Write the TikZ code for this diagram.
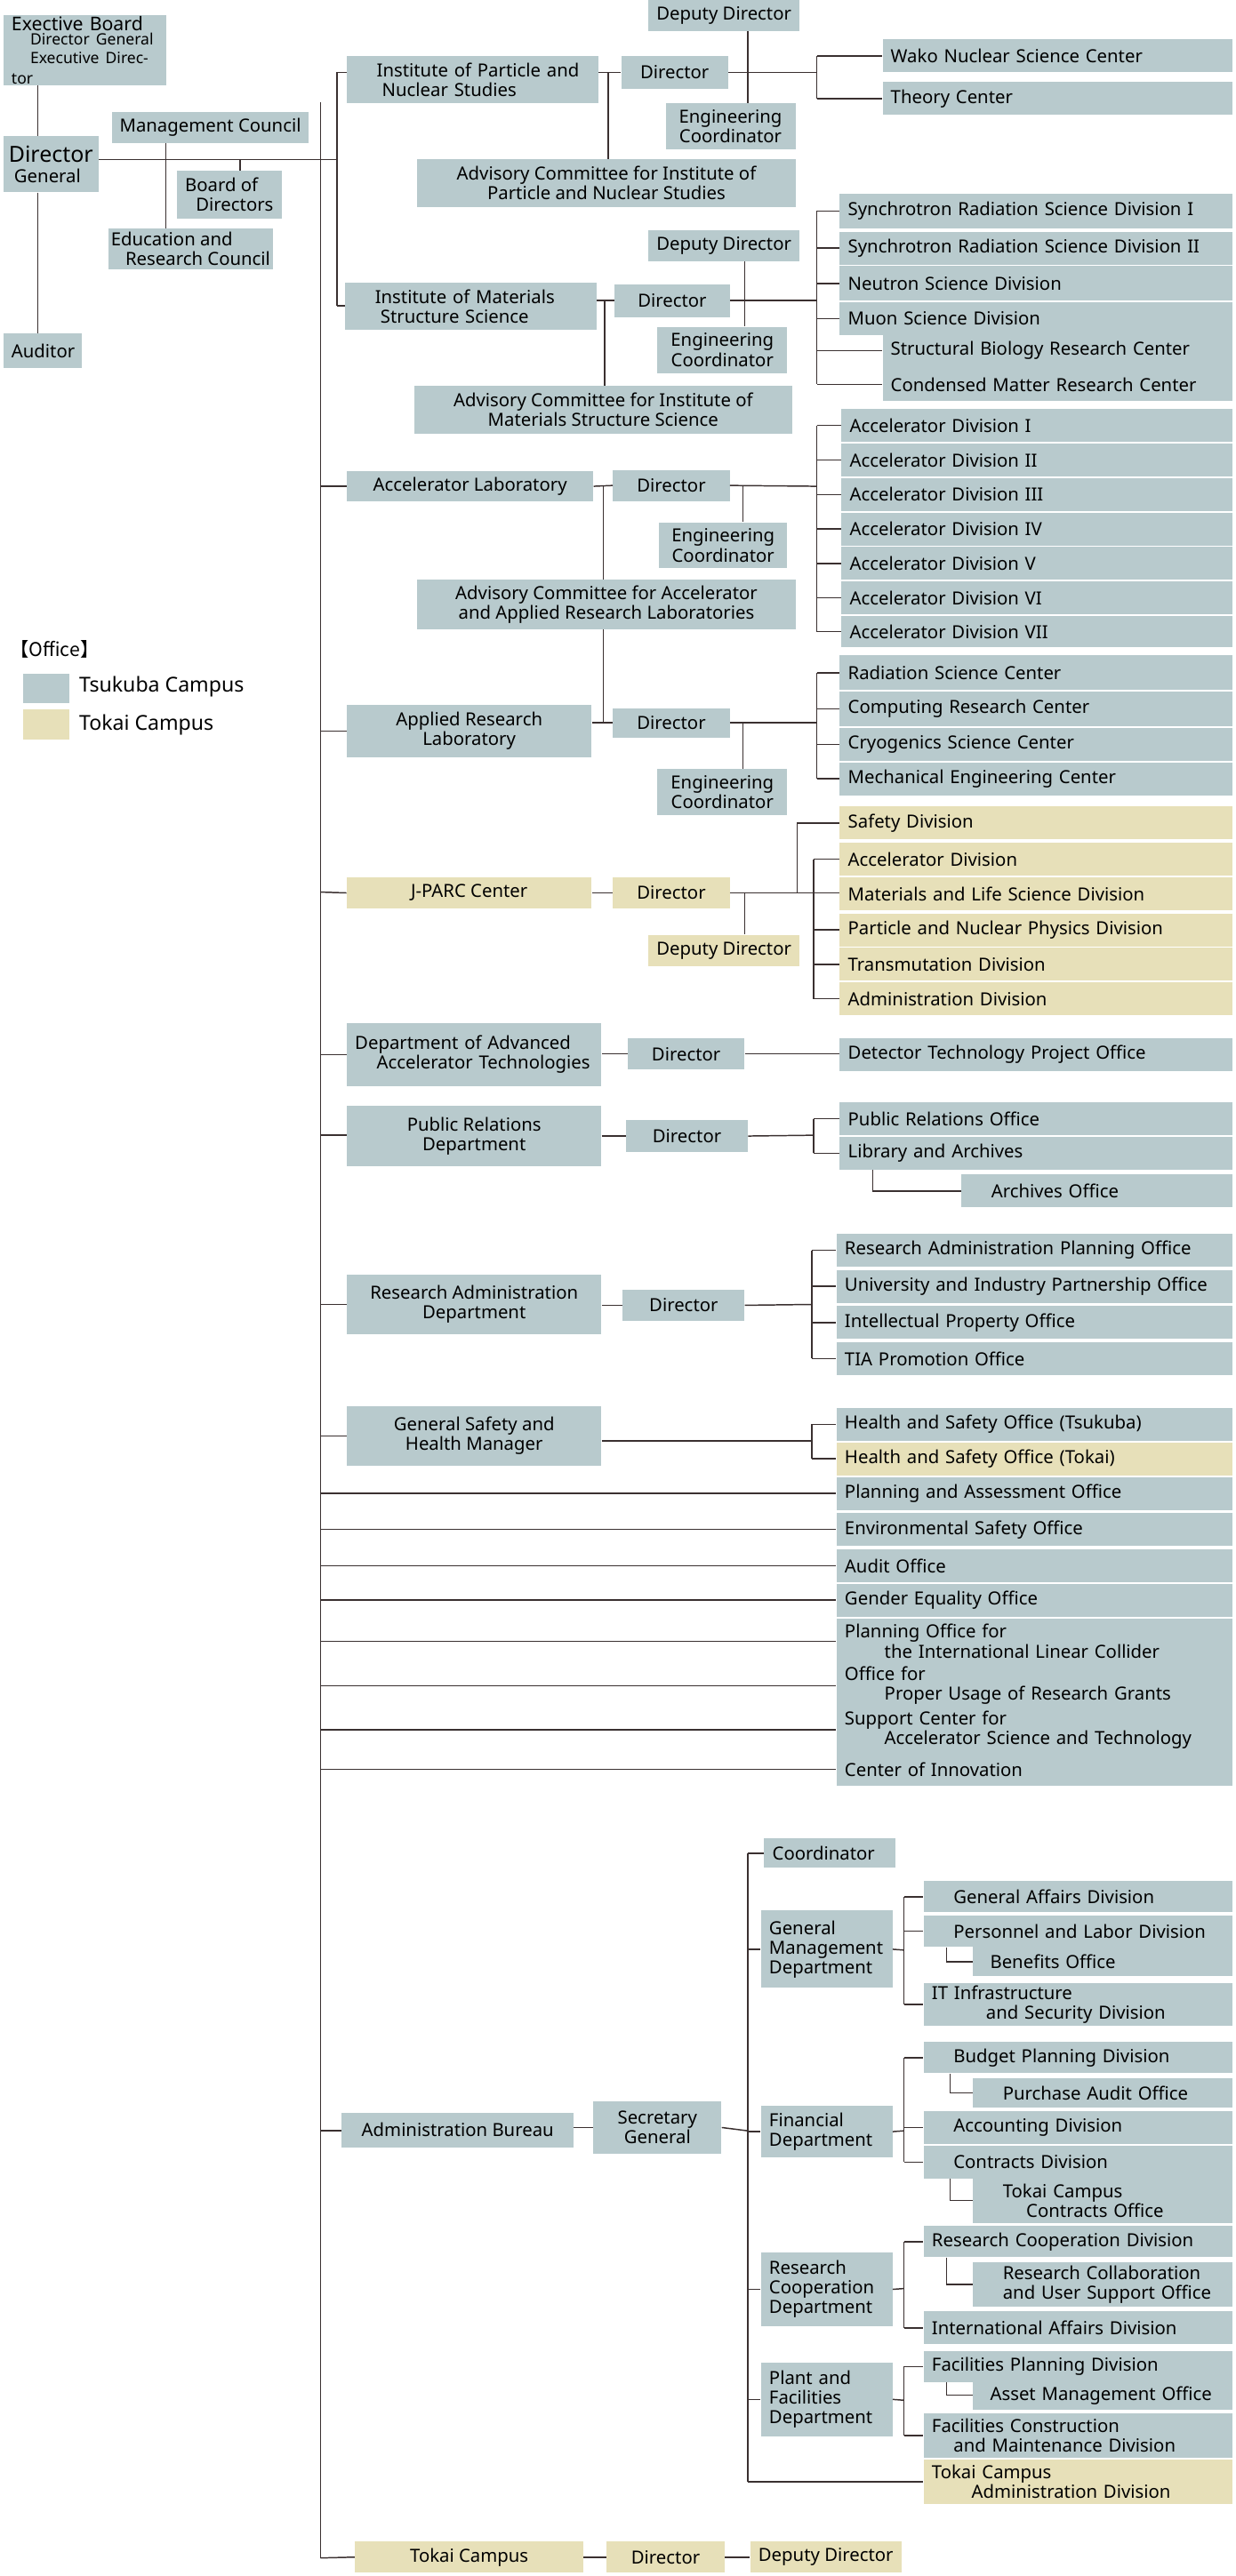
\documentclass[tikz,border=0pt]{standalone}
\usepackage{fontspec}
\setmainfont{Noto Sans}
\newfontfamily\cjk{Noto Sans CJK JP}
\definecolor{tb}{HTML}{B8CACD}
\definecolor{tk}{HTML}{E7E0B9}
\definecolor{ln}{HTML}{3A3030}
\tikzset{box/.style={fill=tb,draw=none,inner xsep=5pt,inner ysep=0pt,align=left,font=\fontsize{11}{12}\selectfont,anchor=center},
tok/.style={fill=tk},
cen/.style={align=center,text width={}},
free/.style={text width={}},
conn/.style={draw=ln,line width=0.8pt}}
\newcommand\B[7][]{\pgfmathsetmacro\bw{#5-#3}\pgfmathsetmacro\bh{#6-#4}\pgfmathsetmacro\tw{#5-#3-10}%
\node[box,minimum width=\bw pt,minimum height=\bh pt,text width=\tw pt,#1] (#2) at ({(#3+#5)/2},{(#4+#6)/2}) {#7};}
\newcommand\br[2]{\draw[conn] (#1 |- #2.west) -- (#2.west);}
\newcommand\vs[3]{\draw[conn] (#1 |- #2) -- (#1 |- #3);}
\newcommand\I{\hspace*{1.2em}}
\begin{document}
\begin{tikzpicture}[x=1pt,y=-1pt]
\useasboundingbox (0,0) rectangle (752,1568);
% left
\B[font=\fontsize{11.5}{12.5}\selectfont]{eb}{2}{9}{101}{52}{Exective Board\\[-2pt]{\fontsize{9.5}{10.5}\selectfont\I Director General\\[-1pt]\I Executive Director}}
\B[free,inner xsep=1pt]{dg}{2}{83}{60}{117}{\fontsize{13.5}{13}\selectfont Director\\\hspace*{0.3em}General}
\B[free,inner xsep=3pt]{mc}{68}{68}{188}{87}{Management Council}
\B[free]{bod}{108}{104}{171}{133}{Board of\\\hspace*{0.6em}Directors}
\B[free,inner xsep=1pt]{erc}{66}{139}{166}{164}{Education and\\\hspace*{0.8em}Research Council}
\B{aud}{2}{203}{50}{224}{Auditor}
\draw[conn] (eb.south -| 23,0) -- (dg.north -| 23,0);
\draw[conn] (dg.south -| 23,0) -- (aud.north -| 23,0);
\coordinate (t0) at (195,62); \coordinate (t1) at (195,1557);
\coordinate (s0) at (205,44);
\draw[conn] (dg.east |- 0,97) -- (205,97);
\draw[conn] (mc.south -| 101,0) -- (erc.north -| 101,0);
\draw[conn] (146,97) -- (bod.north -| 146,0);
\draw[conn] (t0) -- (t1);
\draw[conn] (s0) -- (205,186);
% legend
\node[font=\cjk\fontsize{11.5}{12}\selectfont,anchor=west,inner sep=0] (lg) at (6,395) {【Office】};
\node[fill=tb,minimum width=28pt,minimum height=18pt,inner sep=0] (lt) at (28,419) {};
\node[fill=tk,minimum width=28pt,minimum height=18pt,inner sep=0] (lk) at (28,441) {};
\node[font=\fontsize{12.5}{12}\selectfont,anchor=west,inner sep=0] (ltt) at (48,418) {Tsukuba Campus};
\node[font=\fontsize{12.5}{12}\selectfont,anchor=west,inner sep=0] (lkt) at (48,441) {Tokai Campus};
% IPNS
\B{ipns}{211}{34}{364}{63}{\I Institute of Particle and\\\I\hspace*{0.3em}Nuclear Studies}
\B[cen]{ipd}{378}{34}{443}{54}{Director}
\B[cen]{ipdd}{397}{0}{484}{19}{Deputy Director}
\B[cen]{ipec}{405}{63}{484}{91}{Engineering\\Coordinator}
\B{wako}{537}{24}{750}{44}{Wako Nuclear Science Center}
\B{thc}{537}{50}{750}{70}{Theory Center}
\B[cen]{ipac}{254}{97}{484}{126}{Advisory Committee for Institute of\\Particle and Nuclear Studies}
\draw[conn] (s0) -- (ipns.west |- s0);
\draw[conn] (ipns.east |- ipd) -- (ipd.west);
\coordinate (b1) at (497,44);
\draw[conn] (ipd.east) -- (b1);
\vs{b1}{wako}{thc} \br{b1}{wako} \br{b1}{thc}
\draw[conn] (ipdd.south -| 455,0) -- (ipec.north -| 455,0);
\draw[conn] (370,44) -- (ipac.north -| 370,0);
% IMSS
\B{imss}{210}{172}{363}{201}{\I Institute of Materials\\\I\hspace*{0.3em}Structure Science}
\B[cen]{imd}{374}{173}{444}{193}{Director}
\B[cen]{imdd}{397}{140}{484}{159}{Deputy Director}
\B[cen]{imec}{400}{199}{479}{227}{Engineering\\Coordinator}
\B[cen]{imac}{252}{235}{482}{264}{Advisory Committee for Institute of\\Materials Structure Science}
\B{sr1}{511}{118}{750}{139}{Synchrotron Radiation Science Division I}
\B{sr2}{511}{141}{750}{161}{Synchrotron Radiation Science Division II}
\B{nsd}{511}{162}{750}{183}{Neutron Science Division}
\B{msd}{511}{184}{750}{204}{Muon Science Division}
\B{sbr}{537}{203}{750}{224}{Structural Biology Research Center}
\B{cmr}{537}{224}{750}{244}{Condensed Matter Research Center}
\draw[conn] (205,186) -- (imss.west |- 0,186);
\draw[conn] (imss.east |- imd) -- (imd.west);
\coordinate (b2) at (497,183);
\draw[conn] (imd.east) -- (b2);
\vs{b2}{sr1}{cmr} \br{b2}{sr1} \br{b2}{sr2} \br{b2}{nsd} \br{b2}{msd} \br{b2}{sbr} \br{b2}{cmr}
\draw[conn] (imdd.south -| 453,0) -- (imec.north -| 453,0);
\draw[conn] (368,183) -- (imac.north -| 368,0);
% Accelerator lab
\B[cen]{acl}{211}{287}{361}{305}{Accelerator Laboratory}
\B[cen]{acd}{373}{286}{444}{305}{Director}
\B[cen]{acec}{401}{318}{479}{346}{Engineering\\Coordinator}
\B[cen]{acac}{254}{353}{484}{383}{Advisory Committee for Accelerator\\and Applied Research Laboratories}
\B{ad1}{512}{249}{750}{269}{Accelerator Division I}
\B{ad2}{512}{270}{750}{290}{Accelerator Division II}
\B{ad3}{512}{291}{750}{311}{Accelerator Division III}
\B{ad4}{512}{312}{750}{332}{Accelerator Division IV}
\B{ad5}{512}{333}{750}{353}{Accelerator Division V}
\B{ad6}{512}{354}{750}{374}{Accelerator Division VI}
\B{ad7}{512}{375}{750}{394}{Accelerator Division VII}
\draw[conn] (195,296) -- (acl.west |- 0,296);
\draw[conn] (acl.east) -- (acd.west);
\coordinate (b3) at (497,296);
\draw[conn] (acd.east) -- (b3);
\vs{b3}{ad1}{ad7} \br{b3}{ad1} \br{b3}{ad2} \br{b3}{ad3} \br{b3}{ad4} \br{b3}{ad5} \br{b3}{ad6} \br{b3}{ad7}
\draw[conn] (452,296) -- (acec.north -| 452,0);
\draw[conn] (367,296) -- (acac.north -| 367,0);
% Applied research
\B[cen]{arl}{211}{429}{360}{461}{Applied Research\\Laboratory}
\B[cen]{ard}{373}{431}{444}{449}{Director}
\B[cen]{arec}{400}{468}{479}{496}{Engineering\\Coordinator}
\B{rsc}{511}{399}{750}{420}{Radiation Science Center}
\B{crc}{511}{421}{750}{442}{Computing Research Center}
\B{csc}{511}{443}{750}{463}{Cryogenics Science Center}
\B{mec}{511}{464}{750}{484}{Mechanical Engineering Center}
\draw[conn] (195,445) -- (arl.west |- 0,445);
\draw[conn] (arl.east |- ard) -- (ard.west);
\draw[conn] (acac.south -| 367,0) -- (367,440);
\coordinate (b4) at (497,440);
\draw[conn] (ard.east) -- (b4);
\vs{b4}{rsc}{mec} \br{b4}{rsc} \br{b4}{crc} \br{b4}{csc} \br{b4}{mec}
\draw[conn] (452,440) -- (arec.north -| 452,0);
% J-PARC
\B[cen,tok]{jp}{211}{534}{360}{553}{J-PARC Center}
\B[cen,tok]{jpd}{373}{534}{444}{553}{Director}
\B[cen,tok]{jpdd}{397}{569}{484}{588}{Deputy Director}
\B[tok]{js1}{511}{491}{750}{511}{Safety Division}
\B[tok]{js2}{511}{513}{750}{533}{Accelerator Division}
\B[tok]{js3}{511}{534}{750}{554}{Materials and Life Science Division}
\B[tok]{js4}{511}{556}{750}{576}{Particle and Nuclear Physics Division}
\B[tok]{js5}{511}{577}{750}{597}{Transmutation Division}
\B[tok]{js6}{511}{598}{750}{618}{Administration Division}
\draw[conn] (195,543) -- (jp.west);
\draw[conn] (jp.east) -- (jpd.west);
\draw[conn] (jpd.east) -- (jpd.east -| js3.west);
\coordinate (b5a) at (485,543); \coordinate (b5b) at (495,543);
\vs{b5a}{js1}{b5a} \br{b5a}{js1}
\vs{b5b}{js2}{js6} \br{b5b}{js2} \br{b5b}{js4} \br{b5b}{js5} \br{b5b}{js6}
\draw[conn] (453,543) -- (jpdd.north -| 453,0);
% DAAT
\B{daat}{211}{623}{366}{661}{Department of Advanced\\\I Accelerator Technologies}
\B[cen]{dad}{382}{632}{453}{651}{Director}
\B{dtp}{511}{632}{750}{652}{Detector Technology Project Office}
\draw[conn] (195,642) -- (daat.west |- 0,642);
\draw[conn] (daat.east |- dad) -- (dad.west);
\draw[conn] (dad.east) -- (dad.east -| dtp.west);
% PR
\B[cen]{prd}{211}{673}{366}{710}{Public Relations\\Department}
\B[cen]{prdi}{381}{682}{455}{701}{Director}
\B{pro}{511}{671}{750}{691}{Public Relations Office}
\B{lib}{511}{692}{750}{712}{Library and Archives}
\B{aro}{585}{715}{750}{735}{\I Archives Office}
\draw[conn] (195,691) -- (prd.west |- 0,691);
\draw[conn] (prd.east |- prdi) -- (prdi.west);
\coordinate (b6) at (495,691);
\draw[conn] (prdi.east) -- (b6);
\vs{b6}{pro}{lib} \br{b6}{pro} \br{b6}{lib}
\draw[conn] (lib.south -| 531,0) |- (aro.west);
% RAD
\B[cen]{rad}{211}{776}{366}{812}{Research Administration\\Department}
\B[cen]{radi}{379}{785}{453}{804}{Director}
\B{rap}{509}{751}{750}{771}{Research Administration Planning Office}
\B{uip}{509}{773}{750}{793}{University and Industry Partnership Office}
\B{ipo}{509}{795}{750}{815}{Intellectual Property Office}
\B{tia}{509}{817}{750}{837}{TIA Promotion Office}
\draw[conn] (195,794) -- (rad.west |- 0,794);
\draw[conn] (rad.east |- radi) -- (radi.west);
\coordinate (b7) at (494,794);
\draw[conn] (radi.east) -- (b7);
\vs{b7}{rap}{tia} \br{b7}{rap} \br{b7}{uip} \br{b7}{ipo} \br{b7}{tia}
% GSHM
\B[cen]{gsh}{211}{856}{366}{892}{General Safety and\\Health Manager}
\B{hst}{509}{857}{750}{877}{Health and Safety Office (Tsukuba)}
\B[tok]{hsk}{509}{878}{750}{898}{Health and Safety Office (Tokai)}
\draw[conn] (195,874) -- (gsh.west |- 0,874);
\coordinate (b8) at (494,877);
\draw[conn] (gsh.east |- b8) -- (b8);
\vs{b8}{hst}{hsk} \br{b8}{hst} \br{b8}{hsk}
% direct offices
\B{pao}{509}{899}{750}{919}{Planning and Assessment Office}
\B{eso}{509}{921}{750}{941}{Environmental Safety Office}
\B{auo}{509}{943}{750}{963}{Audit Office}
\B{geo}{509}{964}{750}{984}{Gender Equality Office}
\B{ilc}{509}{985}{750}{1013}{Planning Office for\\\hspace*{2.2em}the International Linear Collider}
\B{pur}{509}{1012}{750}{1040}{Office for\\\hspace*{2.2em}Proper Usage of Research Grants}
\B{sca}{509}{1039}{750}{1067}{Support Center for\\\hspace*{2.2em}Accelerator Science and Technology}
\B{coi}{509}{1067}{750}{1087}{Center of Innovation}
\foreach \n in {pao,eso,auo,geo,ilc,pur,sca,coi}{\br{t0}{\n}}
% Administration
\B[cen]{adb}{208}{1286}{349}{1307}{Administration Bureau}
\B[cen]{sg}{361}{1279}{439}{1311}{Secretary\\General}
\draw[conn] (195,1297) -- (adb.west |- 0,1297);
\draw[conn] (adb.east |- sg) -- (sg.west);
\coordinate (b9) at (455,1297);
\draw[conn] (sg.east) -- (b9);
\B{coo}{465}{1119}{545}{1137}{Coordinator}
\B{gmd}{463}{1163}{543}{1210}{General\\Management\\Department}
\B{fin}{463}{1282}{543}{1313}{Financial\\Department}
\B{rcd}{463}{1371}{543}{1416}{Research\\Cooperation\\Department}
\B{pfd}{463}{1438}{543}{1483}{Plant and\\Facilities\\Department}
\B[tok]{tca}{562}{1497}{750}{1524}{Tokai Campus\\\hspace*{2.2em}Administration Division}
\vs{b9}{coo}{tca}
\foreach \n in {coo,gmd,fin,rcd,pfd,tca}{\br{b9}{\n}}
% GMD
\B{gad}{562}{1145}{750}{1164}{\I General Affairs Division}
\B{pld}{562}{1166}{750}{1185}{\I Personnel and Labor Division}
\B{beo}{592}{1185}{750}{1203}{\hspace*{0.5em}Benefits Office}
\B{its}{562}{1207}{750}{1233}{IT Infrastructure\\\hspace*{3em}and Security Division}
\coordinate (c1) at (550,1187);
\draw[conn] (gmd.east) -- (c1);
\vs{c1}{gad}{its} \br{c1}{gad} \br{c1}{pld} \br{c1}{its}
\draw[conn] (pld.south -| 576,0) |- (beo.west);
% FIN
\B{bpd}{562}{1243}{750}{1262}{\I Budget Planning Division}
\B{pao2}{592}{1265}{750}{1283}{\I Purchase Audit Office}
\B{acc}{562}{1285}{750}{1305}{\I Accounting Division}
\B{cod}{562}{1306}{750}{1326}{\I Contracts Division}
\B{tcc}{592}{1326}{750}{1353}{\I Tokai Campus\\\hspace*{2.5em}Contracts Office}
\coordinate (c2) at (550,1297);
\draw[conn] (fin.east) -- (c2);
\vs{c2}{bpd}{cod} \br{c2}{bpd} \br{c2}{acc} \br{c2}{cod}
\draw[conn] (bpd.south -| 578,0) |- (pao2.west);
\draw[conn] (cod.south -| 578,0) |- (tcc.west);
% RCD
\B{rcv}{562}{1355}{750}{1374}{Research Cooperation Division}
\B{rcu}{592}{1377}{750}{1404}{\I Research Collaboration\\\I and User Support Office}
\B{iad}{562}{1407}{750}{1427}{International Affairs Division}
\coordinate (c3) at (550,1393);
\draw[conn] (rcd.east) -- (c3);
\vs{c3}{rcv}{iad} \br{c3}{rcv} \br{c3}{iad}
\draw[conn] (rcv.south -| 576,0) |- (rcu.west);
% PFD
\B{fpd}{562}{1431}{750}{1450}{Facilities Planning Division}
\B{amo}{592}{1449}{750}{1467}{\hspace*{0.5em}Asset Management Office}
\B{fcm}{562}{1469}{750}{1496}{Facilities Construction\\\hspace*{1.2em}and Maintenance Division}
\coordinate (c4) at (550,1461);
\draw[conn] (pfd.east) -- (c4);
\vs{c4}{fpd}{fcm} \br{c4}{fpd} \br{c4}{fcm}
\draw[conn] (fpd.south -| 576,0) |- (amo.west);
% Tokai campus
\B[cen,tok]{tc}{216}{1547}{355}{1566}{Tokai Campus}
\B[cen,tok]{tcd}{369}{1547}{441}{1566}{Director}
\B[cen,tok]{tcdd}{460}{1547}{545}{1566}{Deputy Director}
\draw[conn] (t1) -- (tc.west);
\draw[conn] (tc.east) -- (tcd.west);
\draw[conn] (tcd.east) -- (tcdd.west);
\end{tikzpicture}
\end{document}
